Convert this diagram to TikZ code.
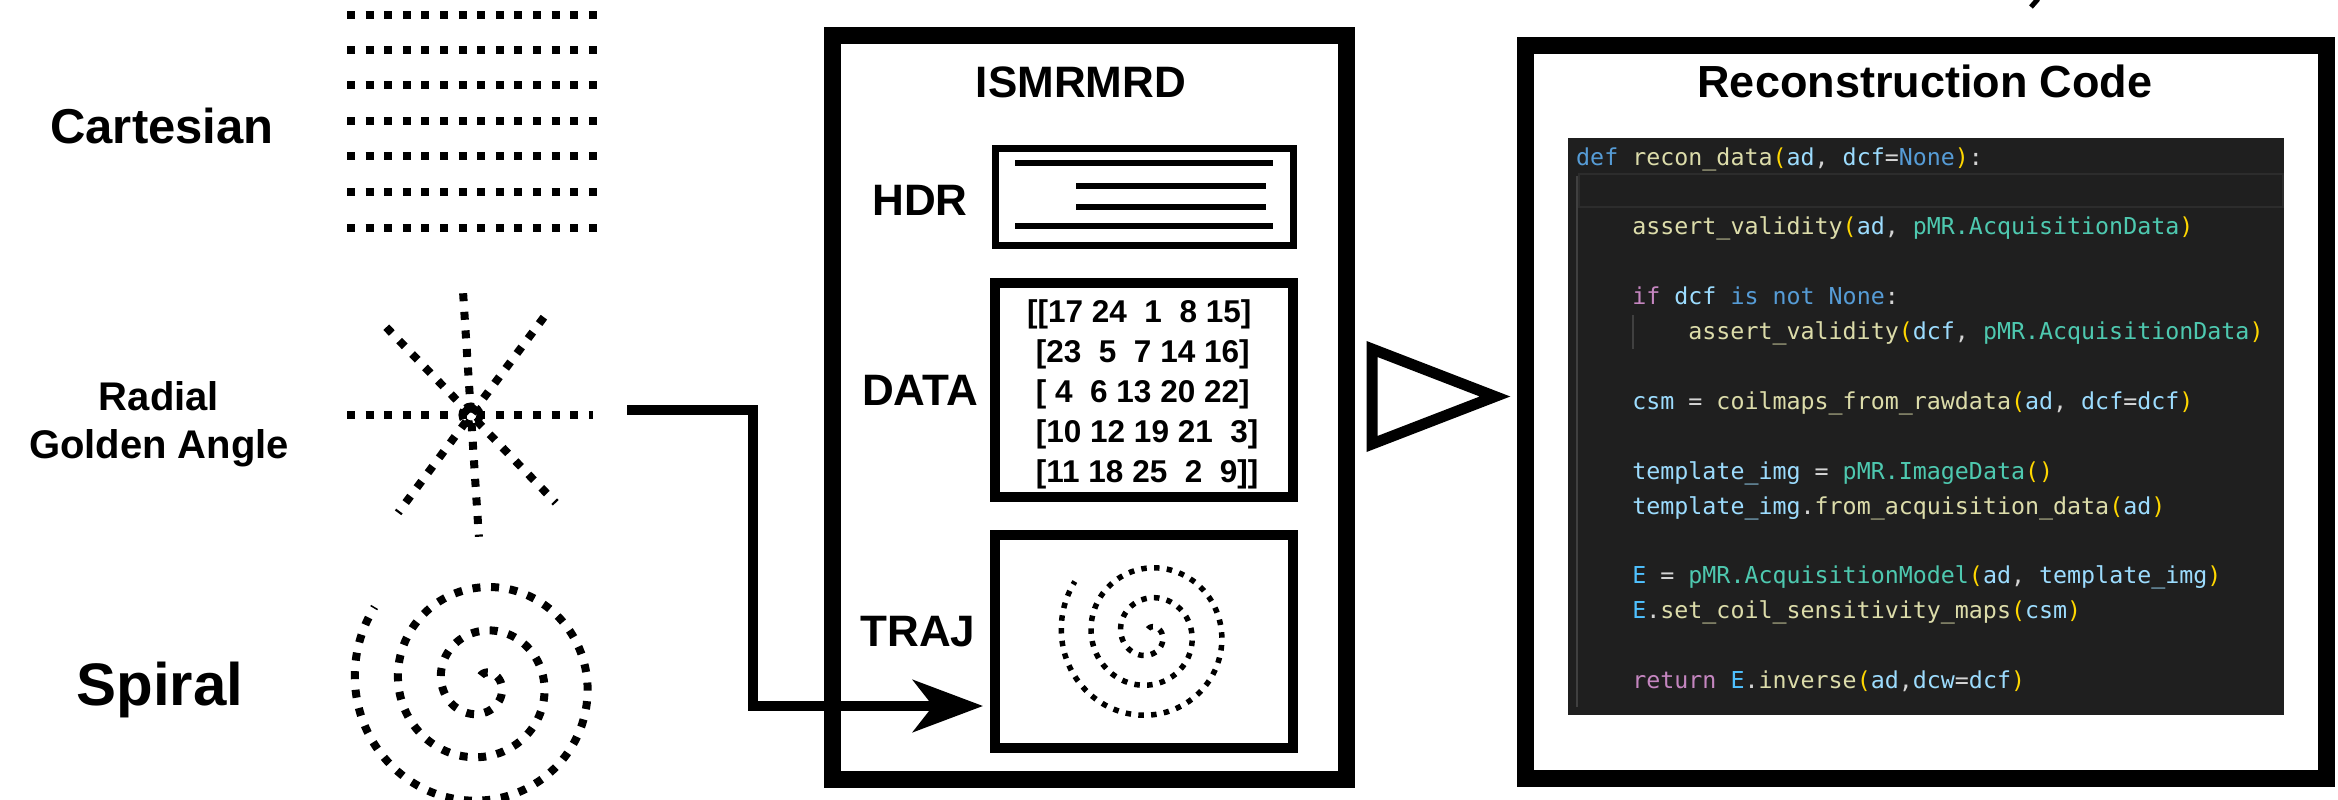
\documentclass[tikz,border=0pt]{standalone}
\usepackage{fontspec}
\setmainfont{Liberation Sans}
\newfontfamily\codefont{DejaVu Sans Mono}
\usetikzlibrary{arrows.meta,calc}
\definecolor{cdkw}{HTML}{569CD6}
\definecolor{cdfn}{HTML}{DCDCAA}
\definecolor{cdbr}{HTML}{FFD700}
\definecolor{cdvar}{HTML}{9CDCFE}
\definecolor{cdtxt}{HTML}{D4D4D4}
\definecolor{cdcls}{HTML}{4EC9B0}
\definecolor{cdctl}{HTML}{C586C0}
\definecolor{cdcon}{HTML}{4FC1FF}
\definecolor{codebg}{HTML}{1F1F1F}
\definecolor{hlband}{HTML}{2C2C2C}
\definecolor{guidegray}{HTML}{404040}
\newcommand{\cdK}[1]{\textcolor{cdkw}{#1}}
\newcommand{\cdF}[1]{\textcolor{cdfn}{#1}}
\newcommand{\cdB}[1]{\textcolor{cdbr}{#1}}
\newcommand{\cdV}[1]{\textcolor{cdvar}{#1}}
\newcommand{\cdT}[1]{\textcolor{cdtxt}{#1}}
\newcommand{\cdC}[1]{\textcolor{cdcls}{#1}}
\newcommand{\cdP}[1]{\textcolor{cdctl}{#1}}
\newcommand{\cdE}[1]{\textcolor{cdcon}{#1}}
\begin{document}
\begin{tikzpicture}[x=1pt,y=-1pt,
  lbl/.style={anchor=base, inner sep=0pt, font=\bfseries\fontsize{44}{50}\selectfont},
  dotline/.style={line width=8pt, dash pattern=on 8pt off 10.6pt},
  smalldot/.style={line width=5.5pt, dash pattern=on 5.5pt off 7.3pt},
  bigbox/.style={draw, line width=17pt, inner sep=0pt, line join=miter},
  subbox/.style={draw, inner sep=0pt, minimum width=298pt, line join=miter},
  hdrline/.style={line width=6.5pt},
  matrow/.style={anchor=base west, inner sep=0pt, font=\bfseries\fontsize{31.5}{36}\selectfont},
  codeline/.style={anchor=base west, inner sep=0pt, text=cdtxt, font=\codefont\fontsize{23.3}{28}\selectfont},
  guide/.style={draw=guidegray, line width=1.5pt}
]
\useasboundingbox (0,0) rectangle (2338,800);
\fill[white] (0,0) rectangle (2338,800);

% ---------- left column labels ----------
\node[lbl, font=\bfseries\fontsize{49}{55}\selectfont] (cart) at (162,143) {Cartesian};
\node[lbl, font=\bfseries\fontsize{40}{46}\selectfont] (rad1) at (159,410) {Radial};
\node[lbl, font=\bfseries\fontsize{40}{46}\selectfont] (rad2) at (159,458) {Golden Angle};
\node[lbl, font=\bfseries\fontsize{60}{66}\selectfont] (spir) at (160,705) {Spiral};

% ---------- Cartesian pattern ----------
\foreach \yy in {15,50,85,121,156,192,228}
  \draw[dotline] (347,\yy) -- (597,\yy);

% ---------- Radial pattern ----------
\coordinate (rc) at (471,415);
\draw[dotline] (347,415) -- (593,415);
\foreach \a in {46,86.3,126.7}
  \draw[dotline] ($(rc)+(\a+180:122)$) -- ($(rc)+(\a:122)$);
\draw[line width=7pt, dash pattern=on 9pt off 3pt] (rc) circle[radius=9];

% ---------- Spiral pattern ----------
\draw[dotline] plot[domain=-100:935, samples=320, smooth, variable=\t]
  ({482+(19+0.12*\t)*cos(\t)}, {683+(19.5+0.121*\t)*sin(\t)});

% ---------- ISMRMRD box ----------
\node[bigbox, minimum width=514pt, minimum height=743pt] (ismrmrd) at (1089,407.5) {};
\node[lbl] (ismtitle) at (1081,97) {ISMRMRD};

\node[subbox, line width=7pt, minimum height=97pt] (hdr) at (1144,196.5) {};
\draw[hdrline] (1015,163) -- (1273,163);
\draw[hdrline] (1076,186) -- (1266,186);
\draw[hdrline] (1076,207) -- (1266,207);
\draw[hdrline] (1015,226) -- (1273,226);
\node[lbl] (hdrlbl) at (920,215) {HDR};

\node[subbox, line width=10pt, minimum height=214pt] (data) at (1144,390) {};
\node[lbl] (datalbl) at (920,405) {DATA};
\node[matrow] (m1) at (1027,322) {[[17 24\ \ 1\ \ 8 15]};
\node[matrow] (m2) at (1027,362) {\ [23\ \ 5\ \ 7 14 16]};
\node[matrow] (m3) at (1027,402) {\ [\ 4\ \ 6 13 20 22]};
\node[matrow] (m4) at (1027,442) {\ [10 12 19 21\ \ 3]};
\node[matrow] (m5) at (1027,482) {\ [11 18 25\ \ 2\ \ 9]]};

\node[subbox, line width=10pt, minimum height=213pt] (traj) at (1144,641.5) {};
\node[lbl] (trajlbl) at (918,646) {TRAJ};
\draw[smalldot] plot[domain=-100:935, samples=320, smooth, variable=\t]
  ({1149+0.69*(19+0.12*\t)*cos(\t)}, {634+0.69*(19.5+0.121*\t)*sin(\t)});

% ---------- connector ----------
\coordinate (radialout) at (627,410);
\coordinate (trajin) at (983,706);
\draw[line width=10pt, line join=miter, -{Stealth[length=70pt,width=52pt,inset=20pt]}]
  (radialout) -- ++(126,0) |- (trajin);

% ---------- triangle ----------
\draw[line width=11pt, line join=miter] (1372,349) -- (1372,444) -- (1495,396.5) -- cycle;

% ---------- Reconstruction box ----------
\node[bigbox, minimum width=801pt, minimum height=732pt] (recon) at (1925.5,412) {};
\node[lbl, font=\bfseries\fontsize{45}{50}\selectfont] (recontitle) at (1925,97) {Reconstruction Code};
\node[fill=codebg, inner sep=0pt, minimum width=716pt, minimum height=577pt] (code) at (1926,426.5) {};
\draw[draw=hlband, line width=2pt] (1579,174) rectangle (2283,207);
\draw[guide] (1577,176) -- (1577,707);
\draw[guide] (1633,315) -- (1633,349);

\node[codeline] (c1) at (1576,165) {\cdK{def} \cdF{recon\_data}\cdB{(}\cdV{ad}, \cdV{dcf}=\cdK{None}\cdB{)}:};
\node[codeline] (c3) at (1632.1,234.8) {\cdF{assert\_validity}\cdB{(}\cdV{ad}, \cdC{pMR.AcquisitionData}\cdB{)}};
\node[codeline] (c5) at (1632.1,304.6) {\cdP{if} \cdV{dcf} \cdK{is} \cdK{not} \cdK{None}:};
\node[codeline] (c6) at (1688.2,339.5) {\cdF{assert\_validity}\cdB{(}\cdV{dcf}, \cdC{pMR.AcquisitionData}\cdB{)}};
\node[codeline] (c8) at (1632.1,409.3) {\cdV{csm} = \cdF{coilmaps\_from\_rawdata}\cdB{(}\cdV{ad}, \cdV{dcf}=\cdV{dcf}\cdB{)}};
\node[codeline] (c10) at (1632.1,479.1) {\cdV{template\_img} = \cdC{pMR.ImageData}\cdB{()}};
\node[codeline] (c11) at (1632.1,514) {\cdV{template\_img}.\cdF{from\_acquisition\_data}\cdB{(}\cdV{ad}\cdB{)}};
\node[codeline] (c13) at (1632.1,583.8) {\cdE{E} = \cdC{pMR.AcquisitionModel}\cdB{(}\cdV{ad}, \cdV{template\_img}\cdB{)}};
\node[codeline] (c14) at (1632.1,618.7) {\cdE{E}.\cdF{set\_coil\_sensitivity\_maps}\cdB{(}\cdV{csm}\cdB{)}};
\node[codeline] (c16) at (1632.1,688.5) {\cdP{return} \cdE{E}.\cdF{inverse}\cdB{(}\cdV{ad},\cdV{dcw}=\cdV{dcf}\cdB{)}};

% ---------- cropped mark at the top edge ----------
\draw[line width=5pt] (2038,-1) -- (2031,7);
\end{tikzpicture}
\end{document}
